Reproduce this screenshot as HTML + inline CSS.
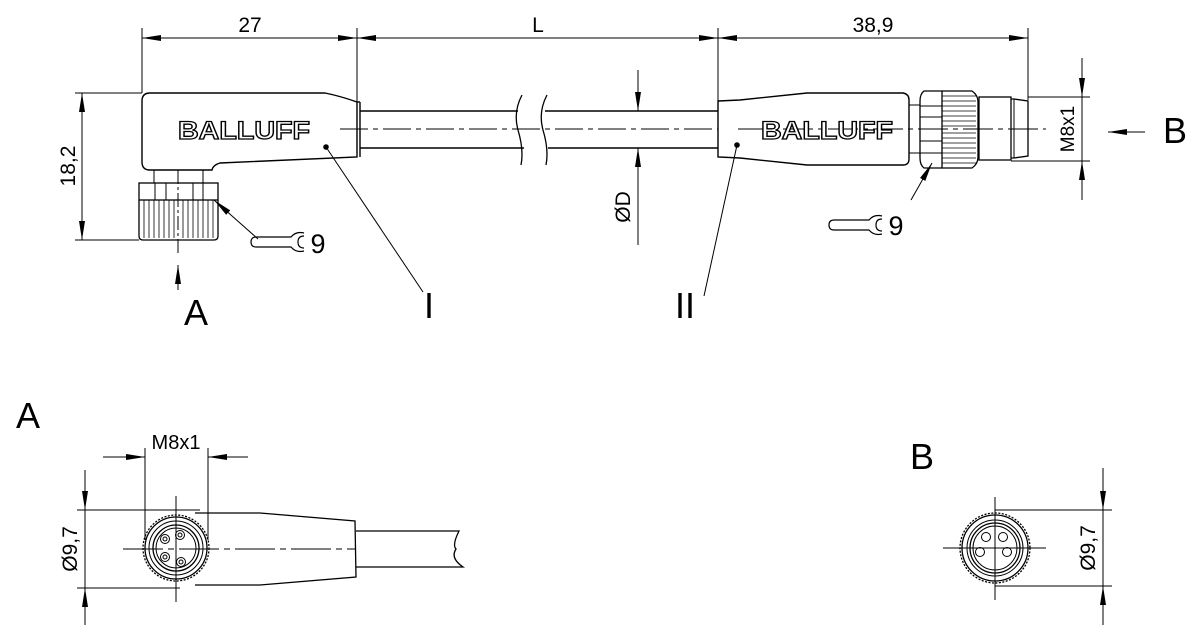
<!DOCTYPE html>
<html><head><meta charset="utf-8"><style>
html,body{margin:0;padding:0;background:#fff;}
svg{display:block;}
text{font-family:"Liberation Sans",Arial,sans-serif;fill:#000;}
</style></head><body>
<svg width="1200" height="644" viewBox="0 0 1200 644" xmlns="http://www.w3.org/2000/svg" font-family="Liberation Sans, Arial, sans-serif">
<defs>
<marker id="ar" viewBox="0 0 19 6" refX="19" refY="3" markerWidth="19" markerHeight="6" markerUnits="userSpaceOnUse" orient="auto"><path d="M0,0L19,3L0,6Z" fill="#000"/></marker>
</defs>
<g stroke="#000" fill="none" stroke-width="1">
<line x1="142" y1="28" x2="142" y2="93"/>
<line x1="357" y1="28" x2="357" y2="102"/>
<line x1="718" y1="28" x2="718" y2="101"/>
<line x1="1028" y1="28" x2="1028" y2="100"/>
<line x1="175" y1="38" x2="142" y2="38" marker-end="url(#ar)"/>
<line x1="325" y1="38" x2="357" y2="38" marker-end="url(#ar)"/>
<line x1="390" y1="38" x2="357" y2="38" marker-end="url(#ar)"/>
<line x1="685" y1="38" x2="718" y2="38" marker-end="url(#ar)"/>
<line x1="751" y1="38" x2="718" y2="38" marker-end="url(#ar)"/>
<line x1="995" y1="38" x2="1028" y2="38" marker-end="url(#ar)"/>
<line x1="170" y1="38" x2="330" y2="38"/>
<line x1="385" y1="38" x2="690" y2="38"/>
<line x1="746" y1="38" x2="1000" y2="38"/>

<line x1="75" y1="93" x2="142" y2="93"/>
<line x1="75" y1="240" x2="139" y2="240"/>
<line x1="82" y1="125" x2="82" y2="93" marker-end="url(#ar)"/>
<line x1="82" y1="208" x2="82" y2="240" marker-end="url(#ar)"/>
<line x1="82" y1="120" x2="82" y2="213"/>

<path d="M150,93 L325,93 Q340,96 357,102 L357,157 L220,163 Q213,165 212,170 L150,170 Q142,170 142,162 L142,101 Q142,93 150,93Z" stroke-width="1.4"/>
<line x1="357" y1="102" x2="360" y2="102" stroke-width="1.4"/>
<line x1="360" y1="102" x2="360" y2="157" stroke-width="1.4"/>
<rect x="154" y="170" width="49" height="13"/>
<rect x="139" y="183" width="79" height="17" stroke-width="1.3"/>
<line x1="155" y1="183" x2="155" y2="200"/><line x1="166" y1="183" x2="166" y2="200"/>
<line x1="193" y1="183" x2="193" y2="200"/><line x1="203" y1="183" x2="203" y2="200"/>
<path d="M139,200 L139,236 Q139,240 143,240 L214,240 Q218,240 218,236 L218,200" stroke-width="1.3"/>
<g stroke-width="0.8">
<line x1="144" y1="200" x2="144" y2="238"/><line x1="149" y1="200" x2="149" y2="238"/><line x1="154" y1="200" x2="154" y2="238"/><line x1="159" y1="200" x2="159" y2="238"/><line x1="164" y1="200" x2="164" y2="238"/><line x1="169" y1="200" x2="169" y2="238"/><line x1="174" y1="200" x2="174" y2="238"/><line x1="183" y1="200" x2="183" y2="238"/><line x1="188" y1="200" x2="188" y2="238"/><line x1="193" y1="200" x2="193" y2="238"/><line x1="198" y1="200" x2="198" y2="238"/><line x1="203" y1="200" x2="203" y2="238"/><line x1="208" y1="200" x2="208" y2="238"/><line x1="213" y1="200" x2="213" y2="238"/>
</g>
<line x1="178" y1="170" x2="178" y2="254" stroke-dasharray="14,3,3,3"/>
<line x1="178" y1="290" x2="178" y2="265" marker-end="url(#ar)"/>

<path d="M360,111 L518,111 M360,148 L524,148 M545,111 L718,111 M548,148 L718,148" stroke-width="1.5"/>
<path d="M522,95 Q513,112 518,130 Q524,150 521,165" stroke-width="1.3"/>
<path d="M547,95 Q538,112 543,130 Q549,150 546,165" stroke-width="1.3"/>
<line x1="340" y1="129" x2="718" y2="129" stroke-dasharray="28,5,5,5"/>

<line x1="638" y1="70" x2="638" y2="111" marker-end="url(#ar)"/>
<line x1="638" y1="245" x2="638" y2="148" marker-end="url(#ar)"/>

<path d="M718,101 L740,100 L807,93 L903,93 Q909,94 909,100 L909,159 Q909,165 903,165 L807,165 L740,158 L718,157 Z" stroke-width="1.4"/>
<rect x="909" y="105" width="11" height="48"/>
<path d="M924,91 L942,91 L942,168 L924,168 Q920,165 920,158 L920,101 Q920,94 924,91Z" stroke-width="1.3"/>
<line x1="920" y1="106" x2="942" y2="106"/><line x1="920" y1="117" x2="942" y2="117"/>
<line x1="920" y1="141" x2="942" y2="141"/><line x1="920" y1="153" x2="942" y2="153"/>
<path d="M942,91 L972,91 Q978,95 978,102 L978,157 Q978,164 972,168 L942,168" stroke-width="1.3"/>
<g stroke-width="0.8">
<line x1="942" y1="96" x2="976" y2="96"/><line x1="942" y1="101" x2="976" y2="101"/><line x1="942" y1="106" x2="976" y2="106"/><line x1="942" y1="111" x2="976" y2="111"/><line x1="942" y1="116" x2="976" y2="116"/><line x1="942" y1="121" x2="976" y2="121"/><line x1="942" y1="126" x2="976" y2="126"/><line x1="942" y1="133" x2="976" y2="133"/><line x1="942" y1="138" x2="976" y2="138"/><line x1="942" y1="143" x2="976" y2="143"/><line x1="942" y1="148" x2="976" y2="148"/><line x1="942" y1="153" x2="976" y2="153"/><line x1="942" y1="158" x2="976" y2="158"/><line x1="942" y1="163" x2="976" y2="163"/>
</g>
<rect x="979" y="97" width="32" height="63" stroke-width="1.3"/>
<path d="M1011,99 L1014,99 L1028,101 L1028,156 L1014,158 L1011,158" stroke-width="1.3"/>
<line x1="1014" y1="99" x2="1014" y2="158"/>
<line x1="738" y1="129" x2="1046" y2="129" stroke-dasharray="30,5,5,5"/>

<line x1="1028" y1="97" x2="1090" y2="97"/>
<line x1="1011" y1="161" x2="1090" y2="161"/>
<line x1="1082" y1="58" x2="1082" y2="97" marker-end="url(#ar)"/>
<line x1="1082" y1="200" x2="1082" y2="161" marker-end="url(#ar)"/>
<line x1="1082" y1="97" x2="1082" y2="161"/>
<line x1="1145" y1="132" x2="1108" y2="132" marker-end="url(#ar)"/>

<line x1="326" y1="147" x2="423" y2="292"/>
<line x1="737" y1="145" x2="704" y2="296"/>
<line x1="258" y1="239" x2="214" y2="200" marker-end="url(#ar)"/>
<line x1="911" y1="200" x2="932" y2="163" marker-end="url(#ar)"/>

<path d="M256,237 L291,237 Q296,231 304,233 M304,251 Q296,253 291,247 L256,247 Q251,247 251,242 Q251,237 256,237 M304,236 Q298,236 298,242 Q298,248 304,248" stroke-width="1.2"/>
<path d="M834,220 L869,220 Q874,214 882,216 M882,234 Q874,236 869,230 L834,230 Q829,230 829,225 Q829,220 834,220 M882,219 Q876,219 876,225 Q876,231 882,231" stroke-width="1.2"/>

<path d="M195,513 L260,513 L355,521 L356,577 L260,585 L195,585" stroke-width="1.3"/>
<path d="M356,531 L459,531 Q452,545 456,549 Q450,558 463,567 L356,567" stroke-width="1.3"/>
<circle cx="176" cy="548" r="33" stroke-width="1.3" stroke-dasharray="2,1.5"/>
<circle cx="176" cy="548" r="31" stroke-width="1.3"/>
<circle cx="176" cy="548" r="27"/>
<circle cx="176" cy="548" r="23" stroke-width="1.3"/>
<circle cx="176" cy="548" r="20"/>
<g><circle cx="165" cy="539" r="4.5"/><circle cx="165" cy="539" r="2"/>
<circle cx="180" cy="535" r="4.5"/><circle cx="180" cy="535" r="2"/>
<circle cx="165" cy="557" r="4.5"/><circle cx="165" cy="557" r="2"/>
<circle cx="181" cy="562" r="4.5"/><circle cx="181" cy="562" r="2"/></g>
<line x1="123" y1="549" x2="356" y2="549" stroke-dasharray="40,5,6,5"/>
<line x1="176" y1="496" x2="176" y2="602"/>
<line x1="145" y1="448" x2="145" y2="540"/>
<line x1="208" y1="448" x2="208" y2="540"/>
<line x1="103" y1="457" x2="145" y2="457" marker-end="url(#ar)"/>
<line x1="248" y1="457" x2="208" y2="457" marker-end="url(#ar)"/>
<line x1="77" y1="510" x2="200" y2="510"/>
<line x1="77" y1="588" x2="180" y2="588"/>
<line x1="85" y1="470" x2="85" y2="510" marker-end="url(#ar)"/>
<line x1="85" y1="625" x2="85" y2="588" marker-end="url(#ar)"/>
<line x1="85" y1="510" x2="85" y2="588"/>

<circle cx="995" cy="548" r="35" stroke-width="1.3" stroke-dasharray="2,1.5"/>
<circle cx="995" cy="548" r="33" stroke-width="1.3"/>
<circle cx="995" cy="548" r="28"/>
<circle cx="995" cy="548" r="25" stroke-width="1.3"/>
<circle cx="995" cy="548" r="22"/>
<circle cx="986" cy="537" r="4.5"/><circle cx="1003" cy="537" r="4.5"/>
<circle cx="980" cy="552" r="4.5"/><circle cx="1007" cy="552" r="4.5"/>
<line x1="943" y1="548" x2="1046" y2="548"/>
<line x1="995" y1="497" x2="995" y2="600"/>
<line x1="995" y1="510" x2="1112" y2="510"/>
<line x1="995" y1="586" x2="1112" y2="586"/>
<line x1="1103" y1="468" x2="1103" y2="510" marker-end="url(#ar)"/>
<line x1="1103" y1="625" x2="1103" y2="586" marker-end="url(#ar)"/>
<line x1="1103" y1="510" x2="1103" y2="586"/>
</g>
<circle cx="326" cy="147" r="2.8" fill="#000"/>
<circle cx="737" cy="145" r="2.8" fill="#000"/>

<text x="178" y="139" font-family="Liberation Sans, Arial, sans-serif" font-size="25" font-weight="bold" textLength="132" lengthAdjust="spacingAndGlyphs" style="fill:#fff;stroke:#000;stroke-width:1.3">BALLUFF</text>
<text x="761" y="139" font-family="Liberation Sans, Arial, sans-serif" font-size="25" font-weight="bold" textLength="132" lengthAdjust="spacingAndGlyphs" style="fill:#fff;stroke:#000;stroke-width:1.3">BALLUFF</text>

<g font-family="Liberation Sans, Arial, sans-serif">
<text x="250" y="32" font-size="21" text-anchor="middle">27</text>
<text x="538" y="32" font-size="21" text-anchor="middle">L</text>
<text x="873" y="32" font-size="21" text-anchor="middle">38,9</text>
<text transform="translate(75,166) rotate(-90)" font-size="21" text-anchor="middle">18,2</text>
<text transform="translate(630,207) rotate(-90)" font-size="21" text-anchor="middle">ØD</text>
<text transform="translate(1074,129) rotate(-90)" font-size="19" text-anchor="middle">M8x1</text>
<text x="1175" y="143" font-size="36" text-anchor="middle">B</text>
<text x="196" y="325" font-size="36" text-anchor="middle">A</text>
<text x="429" y="318" font-size="36" text-anchor="middle">I</text>
<text x="685" y="318" font-size="36" text-anchor="middle">II</text>
<text x="318" y="253" font-size="27" text-anchor="middle">9</text>
<text x="896" y="235" font-size="27" text-anchor="middle">9</text>
<text x="28" y="428" font-size="36" text-anchor="middle">A</text>
<text x="922" y="469" font-size="36" text-anchor="middle">B</text>
<text x="176" y="449" font-size="20" text-anchor="middle">M8x1</text>
<text transform="translate(77,549) rotate(-90)" font-size="21" text-anchor="middle">Ø9,7</text>
<text transform="translate(1095,548) rotate(-90)" font-size="21" text-anchor="middle">Ø9,7</text>
</g>
</svg>
</body></html>
